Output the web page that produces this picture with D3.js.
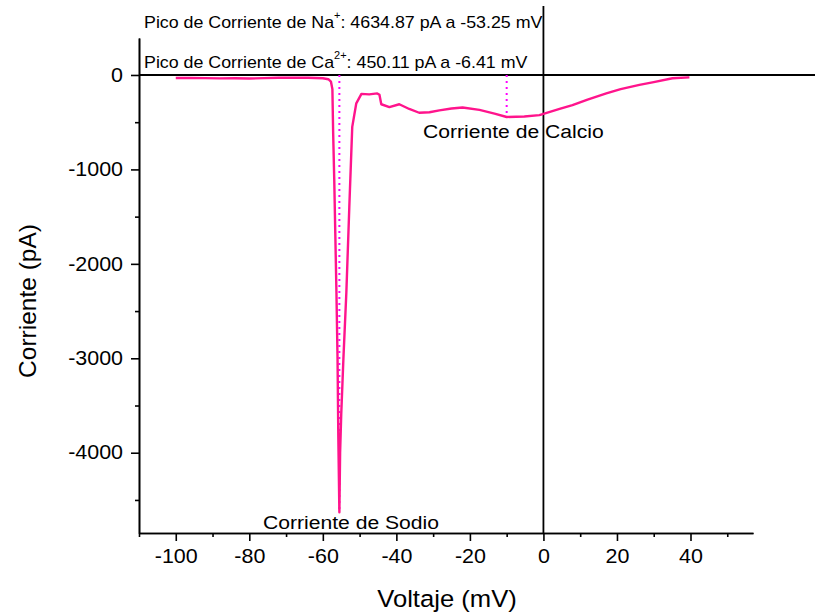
<!DOCTYPE html>
<html>
<head>
<meta charset="utf-8">
<script src="https://cdn.jsdelivr.net/npm/d3@7"></script>
<style>
  body { margin: 0; background: #fff; }
  svg { display: block; }
  text { font-family: "Liberation Sans", Arial, sans-serif; fill: #000; }
</style>
</head>
<body>
<svg id="chart" width="815" height="613"></svg>
<script>
// ---- data ----
const voltage = [-100, -96, -92, -88, -84, -80, -76, -72, -68, -64, -60, -58.5, -57.8, -57.4, -57.2, -56.9, -56.6, -56.3, -56.0, -55.8, -55.5, -55.3, -55.0, -54.4, -53.6, -52.8, -52.0, -50.9, -49.5, -47.4, -45.2, -44.6, -44.1, -41.9, -39.2, -36.5, -33.8, -31.0, -28.3, -25, -22.0, -17.4, -13.3, -10.0, -5.2, -1.1, 4.4, 7.9, 12, 17.1, 21, 26.1, 30, 35.1, 39.7];
const current = [-32, -32, -33, -36, -34, -38, -33, -30, -28, -30, -35, -45, -70, -150, -600, -1100, -1700, -2300, -3000, -3800, -4630, -4000, -3600, -3000, -2300, -1400, -550, -300, -200, -205, -195, -210, -310, -340, -310, -360, -400, -395, -375, -355, -345, -370, -410, -445, -440, -425, -360, -320, -260, -195, -150, -105, -75, -35, -25];

const xTicks = [-100, -80, -60, -40, -20, 0, 20, 40];
const xMinorTicks = [-110, -90, -70, -50, -30, -10, 10, 30, 50];
const yTicks = [0, -1000, -2000, -3000, -4000];
const yMinorTicks = [-500, -1500, -2500, -3500, -4500];

const naPeak = { label: "Na", sup: "+", text: ": 4634.87 pA a -53.25 mV", markV: -55.5, markI: -4600 };
const caPeak = { label: "Ca", sup: "2+", text: ": 450.11 pA a -6.41 mV", markV: -10.0, markI: -445 };

const xTitle = "Voltaje (mV)";
const yTitle = "Corriente (pA)";
const naLabel = "Corriente de Sodio";
const caLabel = "Corriente de Calcio";

// ---- layout ----
const svg = d3.select("#chart");
const mLeft = 139, mRight = 753, mTop = 38, mBottom = 533;
const SX = 1.1; // horizontal stretch of the reference's text
const fmt = d => String(d);

const x = d3.scaleLinear().domain([-110, 57]).range([mLeft, mRight]);
const y = d3.scaleLinear().domain([-4850, 391.5]).range([mBottom, mTop]);

// axes
const xAxis = svg.append("g").attr("transform", `translate(0,${mBottom})`)
  .call(d3.axisBottom(x).tickValues(xTicks).tickSize(8).tickSizeOuter(0).tickPadding(8).tickFormat(fmt));
svg.append("g").attr("transform", `translate(0,${mBottom})`)
  .call(d3.axisBottom(x).tickValues(xMinorTicks).tickSize(4).tickSizeOuter(0).tickFormat(""));
const yAxis = svg.append("g").attr("transform", `translate(${mLeft},0)`)
  .call(d3.axisLeft(y).tickValues(yTicks).tickSize(8).tickSizeOuter(0).tickPadding(8).tickFormat(fmt));
svg.append("g").attr("transform", `translate(${mLeft},0)`)
  .call(d3.axisLeft(y).tickValues(yMinorTicks).tickSize(4).tickSizeOuter(0).tickFormat(""));

svg.selectAll(".domain").attr("stroke", "#000").attr("stroke-width", 1.6);
svg.selectAll(".tick line").attr("stroke", "#000").attr("stroke-width", 1.6);
xAxis.selectAll(".tick text").attr("font-size", 19.5).attr("font-family", '"Liberation Sans", Arial, sans-serif')
  .attr("transform", `scale(${SX},1)`).attr("fill", "#000");
yAxis.selectAll(".tick text").attr("font-size", 19.5).attr("font-family", '"Liberation Sans", Arial, sans-serif')
  .attr("x", -16 / SX).attr("transform", `scale(${SX},1)`).attr("fill", "#000");

// zero lines
svg.append("line").attr("x1", mLeft).attr("x2", 815).attr("y1", y(0)).attr("y2", y(0))
  .attr("stroke", "#000").attr("stroke-width", 2);
svg.append("line").attr("x1", x(0)).attr("x2", x(0)).attr("y1", 6).attr("y2", mBottom)
  .attr("stroke", "#000").attr("stroke-width", 1.8);

// peak markers (dotted)
[naPeak, caPeak].forEach(p => {
  svg.append("line").attr("x1", x(p.markV)).attr("x2", x(p.markV))
    .attr("y1", y(0)).attr("y2", y(p.markI))
    .attr("stroke", "#ff00ff").attr("stroke-width", 2).attr("stroke-dasharray", "2,4");
});

// curve
const pts = voltage.map((v, i) => [v, current[i]]);
svg.append("path").datum(pts)
  .attr("fill", "none").attr("stroke", "#ff148c").attr("stroke-width", 2.4)
  .attr("stroke-linejoin", "round")
  .attr("d", d3.line().x(d => x(d[0])).y(d => y(d[1])));

// text helper with horizontal stretch
function stretchedText(px, py, size, anchor) {
  return svg.append("g").attr("transform", `translate(${px},${py}) scale(${SX},1)`)
    .append("text").attr("font-size", size).attr("text-anchor", anchor || "start");
}

// annotations
function peakLine(p, py) {
  const t = stretchedText(144, py, 16.2, "start");
  t.append("tspan").text("Pico de Corriente de " + p.label);
  t.append("tspan").attr("font-size", 10).attr("dy", -9).text(p.sup);
  t.append("tspan").attr("dy", 9).text(p.text);
}
peakLine(naPeak, 28);
peakLine(caPeak, 68);

stretchedText(423, 138, 19.2, "start").text(caLabel);
stretchedText(263, 529, 19.2, "start").text(naLabel);

// axis titles
stretchedText(447, 607, 23.3, "middle").text(xTitle);
svg.append("text").attr("transform", `translate(36,301) rotate(-90)`)
  .attr("text-anchor", "middle").attr("font-size", 24.5).text(yTitle);
</script>
</body>
</html>
